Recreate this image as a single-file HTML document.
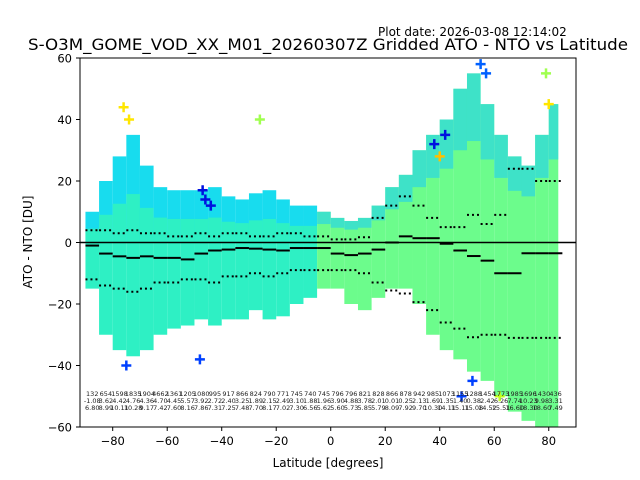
<!DOCTYPE html>
<html><head><meta charset="utf-8"><style>
body{margin:0;background:#fff;}
svg{display:block;font-family:"DejaVu Sans","Liberation Sans",sans-serif;}
</style></head><body>
<svg id="chart" width="640" height="480" viewBox="0 0 640 480" xmlns="http://www.w3.org/2000/svg">
<text x="378" y="36" font-size="12">Plot date: 2026-03-08 12:14:02</text>
<text x="328" y="50" font-size="16" text-anchor="middle" textLength="600" lengthAdjust="spacingAndGlyphs">S-O3M_GOME_VOD_XX_M01_20260307Z Gridded ATO - NTO vs Latitude</text>
<g id="marks"></g>
<rect x="80" y="58" width="496" height="369" fill="none" stroke="#000" stroke-width="1"/>
<g id="axes"></g>
<text x="328" y="467" font-size="12" text-anchor="middle">Latitude [degrees]</text>
<text transform="translate(32,242) rotate(-90)" font-size="12" text-anchor="middle">ATO - NTO [DU]</text>
</svg>
<script>
const binLats=[-90,-85,-80,-75,-70,-65,-60,-55,-50,-45,-40,-35,-30,-25,-20,-15,-10,-5,0,5,10,15,20,25,30,35,40,45,50,55,60,65,70,75,80];
const topVals=[10,20,28,35,25,18,17,17,17,18,15,14,16,17,14,12,12,10,8,7,8,12,18,22,30,35,40,50,55,45,35,28,25,35,45];
const botVals=[-15,-30,-35,-37,-35,-30,-28,-27,-25,-27,-25,-25,-22,-25,-24,-20,-18,-15,-15,-20,-22,-18,-15,-15,-20,-30,-35,-38,-42,-45,-50,-55,-58,-60,-60];
const meanVals=[-1,-3.6,-4.5,-5,-4.5,-5,-5,-5.5,-3.6,-2.6,-2.3,-1.8,-2,-2.3,-2.6,-1.8,-1.8,-1.8,-3.6,-4.1,-3.6,-2.3,0,2,1.4,1.4,-0.4,-2.6,-4.4,-5.9,-10,-10,-3.5,-3.5,-3.5];
const upperVals=[4,4,3,4,3,3,2,2,3,2,3,3,2,2,3,3,2,2,1,1,1.7,8,12,15,12,8,5,5,9,6,9,24,24,20,20];
const lowerVals=[-12,-14,-15,-16,-15,-13,-13,-12,-12,-13,-11,-11,-10,-11,-10,-9,-9,-9,-9,-9,-10,-13,-15.6,-16.6,-19.4,-22,-26,-28,-30.8,-30,-30,-31,-31,-31,-31];
const countVals=["132","654","1598","1835","1904","4662","1361","1205","1080","995","917","866","824","790","771","745","740","745","796","796","821","828","866","878","942","985","1073","1155","1288","1454","1773","1985","1696","1430","436"];
const row2=["-1.08","3.62","4.42","4.76","4.36","4.70","4.45","5.57","3.92","2.72","2.40","3.25","1.89","2.15","2.49","3.10","1.88","1.96","3.90","4.88","3.78","2.01","0.01","0.25","2.13","1.69","1.35","1.40","0.38","2.42","6.26","7.74","10.23","9.98","3.31"];
const row3=["6.80","8.99","10.11","10.28","9.17","7.42","7.60","8.16","7.86","7.31","7.25","7.48","7.70","8.17","7.02","7.30","6.56","5.62","5.60","5.73","5.85","5.79","8.09","7.92","9.70","10.30","14.11","15.11","15.08","14.52","15.51","16.60","18.30","18.60","7.49"];
const outLat=[-76,-74,-47,-46,-44,-26,38,40,42,55,57,79,80,-75,-48,48,52,62];
const outVal=[44,40,17,14,12,40,32,28,35,58,55,55,45,-40,-38,-50,-45,-50];
const outCol=["#ffe600","#ffe600","#0010e0","#0010e0","#0010e0","#a0ff50","#0010e0","#ffc000","#0010e0","#0060ff","#0060ff","#a0ff50","#ffe600","#0040ff","#0040ff","#0040ff","#0040ff","#c0ff20"];
const NS="http://www.w3.org/2000/svg";
const xS=v=>80+(v+92)*496/182;
const yS=v=>242.5-v*369/120;
function mk(t,a,p){const e=document.createElementNS(NS,t);for(const k in a)e.setAttribute(k,a[k]);p.appendChild(e);return e;}
const g=document.getElementById('marks');
const ax=document.getElementById('axes');
binLats.forEach((lat,i)=>{
  const x0=xS(Math.max(lat,-91)),x1=xS(Math.min(lat+5,83.5));
  const left=lat<-7;
  const r1=mk('rect',{x:x0,y:yS(topVals[i]),width:x1-x0,height:yS(0)-yS(topVals[i]),fill:left?'#18dcee':'#6cfc8c'},g);
  
  
  const r2=mk('rect',{x:x0,y:yS(0),width:x1-x0,height:yS(botVals[i])-yS(0),fill:left?'#2ef0c4':'#6cfc8c'},g);
  
  
  if(left){const r3=mk('rect',{x:x0,y:yS(topVals[i]*0.45),width:x1-x0,height:yS(0)-yS(topVals[i]*0.45),fill:'#2ef0c4'},g);
  
  }
  else{const r4=mk('rect',{x:x0,y:yS(topVals[i]),width:x1-x0,height:(yS(topVals[i]*0.6)-yS(topVals[i])),fill:'#20d0f0','fill-opacity':0.6},g);
  
  }
});
outLat.forEach((lat,i)=>{
  const x=xS(lat),y=yS(outVal[i]);
  const p=mk('path',{d:`M${x-5},${y}H${x+5}M${x},${y-5}V${y+5}`,stroke:outCol[i],'stroke-width':2.5},g);
  
  
});
const z=mk('line',{x1:80,x2:576,y1:yS(0),y2:yS(0),stroke:'#000','stroke-width':1.5},g);


binLats.forEach((lat,i)=>{
  const x0=xS(Math.max(lat,-92)),x1=xS(lat+5);
  const m=mk('line',{x1:x0,x2:x1,y1:yS(meanVals[i]),y2:yS(meanVals[i]),stroke:'#000','stroke-width':2},g);
  
  
  const u=mk('line',{x1:x0,x2:x1,y1:yS(upperVals[i]),y2:yS(upperVals[i]),stroke:'#000','stroke-width':2,'stroke-dasharray':'2,3'},g);
  
  
  const l=mk('line',{x1:x0,x2:x1,y1:yS(lowerVals[i]),y2:yS(lowerVals[i]),stroke:'#000','stroke-width':2,'stroke-dasharray':'2,3'},g);
  
  
  const xc=xS(lat+2.5);
  [[countVals,396],[row2,403],[row3,410]].forEach(([arr,y])=>{
    const t=mk('text',{x:xc,y:y,'font-size':6.5,'text-anchor':'middle',fill:'#222'},g);
    t.textContent=arr[i];
    
    
  });
});
[-80,-60,-40,-20,0,20,40,60,80].forEach(v=>{
  const x=xS(v);
  const t=mk('line',{x1:x,x2:x,y1:427,y2:431,stroke:'#000'},ax);
  
  
  const l=mk('text',{x:x,y:445,'font-size':11.5,'text-anchor':'middle'},ax);
  l.textContent=v<0?'\u2212'+(-v):v;
  
  
});
[-60,-40,-20,0,20,40,60].forEach(v=>{
  const y=yS(v);
  const t=mk('line',{x1:76,x2:80,y1:y,y2:y,stroke:'#000'},ax);
  
  
  const l=mk('text',{x:72,y:y+4.5,'font-size':11.5,'text-anchor':'end'},ax);
  l.textContent=v<0?'\u2212'+(-v):v;
  
  
});
</script>
</body></html>
